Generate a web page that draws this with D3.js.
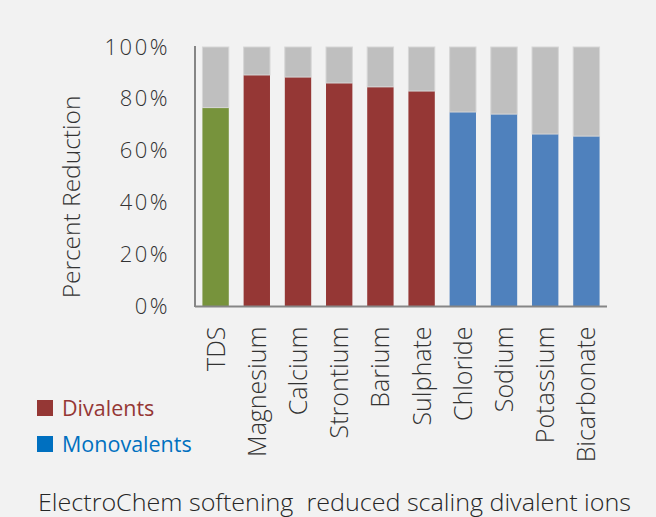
<!DOCTYPE html>
<html>
<head>
<meta charset="utf-8">
<script src="https://cdn.jsdelivr.net/npm/d3@7"></script>
<style>
  html, body { margin: 0; padding: 0; background: #F2F2F2; }
  svg { display: block; }
  text { font-family: "Open Sans", "Noto Sans", sans-serif; }
</style>
</head>
<body>
<svg id="chart" width="656" height="517"></svg>
<script>
// Ions measured, in plotting order
const categories = ["TDS", "Magnesium", "Calcium", "Strontium", "Barium", "Sulphate",
                    "Chloride", "Sodium", "Potassium", "Bicarbonate"];
// Percent reduction achieved for each ion
const reduction = [76.6, 89.2, 88.4, 86.1, 84.6, 83.0, 74.9, 74.1, 66.4, 65.6];
// Ion group for each category
const groups = ["total", "divalent", "divalent", "divalent", "divalent", "divalent",
                "monovalent", "monovalent", "monovalent", "monovalent"];
// Y axis tick values
const yTicks = [0, 20, 40, 60, 80, 100];
// Legend entries
const legendLabels = ["Divalents", "Monovalents"];

const groupColor = { total: "#77933C", divalent: "#953735", monovalent: "#4F81BD" };
const restColor = "#BFBFBF";
const legendColors = ["#953735", "#0070C0"];

const svg = d3.select("#chart");
svg.append("rect").attr("width", 656).attr("height", 517).attr("fill", "#F2F2F2");

const x = d3.scaleBand().domain(categories).range([195, 607]).paddingInner(0.36).paddingOuter(0.18);
const y = d3.scaleLinear().domain([0, 100]).range([306, 47]);

// stacked layers: reduced share and the remaining share up to 100%
const rows = categories.map((c, i) => ({ cat: c, reduced: reduction[i], remaining: 100 - reduction[i], group: groups[i] }));
const stacked = d3.stack().keys(["reduced", "remaining"])(rows);

const bars = svg.append("g");
stacked.forEach(layer => {
  bars.selectAll(null).data(layer).join("rect")
    .attr("x", d => x(d.data.cat))
    .attr("width", x.bandwidth())
    .attr("y", d => y(d[1]))
    .attr("height", d => y(d[0]) - y(d[1]))
    .attr("fill", d => layer.key === "reduced" ? groupColor[d.data.group] : restColor)
    .attr("stroke", layer.key === "remaining" ? "#D6D6D6" : "none")
    .attr("stroke-width", 1);
});

// Axes
const yAxis = d3.axisLeft(y).tickValues(yTicks).tickSize(0).tickPadding(25).tickFormat(d => d + "%");
const gy = svg.append("g").attr("transform", "translate(195,0)").call(yAxis);
gy.select(".domain").attr("stroke", "#868686").attr("stroke-width", 2).attr("d", "M0,46V307");
gy.selectAll("text").attr("font-size", 22).attr("fill", "#333").attr("letter-spacing", 2.5)
  .attr("font-weight", 300);

const xAxis = d3.axisBottom(x).tickSize(0).tickPadding(0);
const gx = svg.append("g").attr("transform", "translate(0,306.5)").call(xAxis);
gx.select(".domain").attr("stroke", "#868686").attr("stroke-width", 2).attr("d", "M195,0H607");
gx.selectAll("text")
  .attr("font-size", 25).attr("fill", "#333").attr("font-weight", 300)
  .attr("text-anchor", "end")
  .attr("transform", "rotate(-90)")
  .attr("x", -20).attr("y", 0).attr("dy", "0.36em");

// Y axis title
svg.append("text")
  .attr("transform", "translate(80,197) rotate(-90)")
  .attr("text-anchor", "middle")
  .attr("font-size", 24.5).attr("font-weight", 300).attr("fill", "#333")
  .text("Percent Reduction");

// Legend
const lg = svg.append("g");
legendLabels.forEach((label, i) => {
  const yy = 400 + i * 36;
  lg.append("rect").attr("x", 37).attr("y", yy).attr("width", 16).attr("height", 16).attr("fill", legendColors[i]);
  lg.append("text").attr("x", 62).attr("y", yy + 16).attr("font-size", 21.5).attr("fill", legendColors[i])
    .text(label);
});

// Caption
svg.append("text")
  .attr("x", 38).attr("y", 511)
  .attr("font-size", 24).attr("fill", "#262626").attr("font-weight", 300)
  .attr("textLength", 593).attr("lengthAdjust", "spacingAndGlyphs")
  .text("ElectroChem softening\u00a0 reduced scaling divalent ions");
</script>
</body>
</html>
